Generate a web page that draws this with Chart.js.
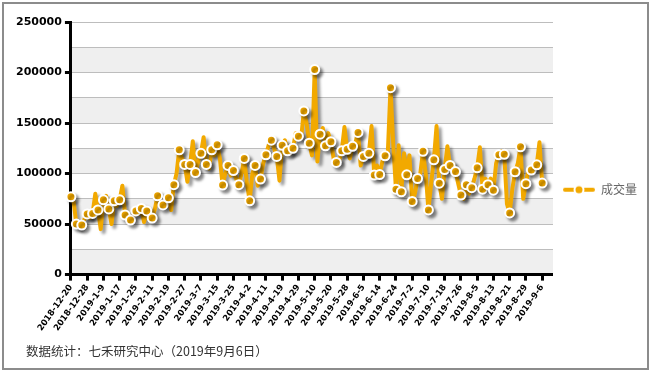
<!DOCTYPE html>
<html>
<head>
<meta charset="utf-8">
<script src="https://cdn.jsdelivr.net/npm/chart.js@4.4.1/dist/chart.umd.min.js"></script>
<style>
  body { margin: 0; background: #fff; }
  #wrap { position: relative; width: 652px; height: 373px; background: #fff; overflow: hidden; }
  #frame { position: absolute; left: 2px; top: 2px; width: 643px; height: 364px; border: 2px solid #8c8c8c; pointer-events: none; }
  #source { position: absolute; left: 26px; top: 343px; font: 12.5px "Noto Sans CJK SC", sans-serif; color: #333; white-space: nowrap; line-height: 16px; }
</style>
</head>
<body>
<div id="wrap">
  <canvas id="c" width="652" height="373"></canvas>
  <div id="frame"></div>
  <div id="source">数据统计：七禾研究中心（2019年9月6日）</div>
</div>
<script>
const seriesName = '成交量';

const tradeDates = [
  '2018-12-20','2018-12-21','2018-12-24','2018-12-25','2018-12-26','2018-12-27','2018-12-28',
  '2019-1-2','2019-1-3','2019-1-4','2019-1-7','2019-1-8','2019-1-9','2019-1-10','2019-1-11',
  '2019-1-14','2019-1-15','2019-1-16','2019-1-17','2019-1-18','2019-1-21','2019-1-22','2019-1-23',
  '2019-1-24','2019-1-25','2019-1-28','2019-1-29','2019-1-30','2019-1-31',
  '2019-2-1','2019-2-11','2019-2-12','2019-2-13','2019-2-14','2019-2-15','2019-2-18','2019-2-19',
  '2019-2-20','2019-2-21','2019-2-22','2019-2-25','2019-2-26','2019-2-27','2019-2-28',
  '2019-3-1','2019-3-4','2019-3-5','2019-3-6','2019-3-7','2019-3-8','2019-3-11','2019-3-12',
  '2019-3-13','2019-3-14','2019-3-15','2019-3-18','2019-3-19','2019-3-20','2019-3-21','2019-3-22',
  '2019-3-25','2019-3-26','2019-3-27','2019-3-28','2019-3-29',
  '2019-4-1','2019-4-2','2019-4-3','2019-4-4','2019-4-8','2019-4-9','2019-4-10','2019-4-11',
  '2019-4-12','2019-4-15','2019-4-16','2019-4-17','2019-4-18','2019-4-19','2019-4-22','2019-4-23',
  '2019-4-24','2019-4-25','2019-4-26','2019-4-29','2019-4-30',
  '2019-5-6','2019-5-7','2019-5-8','2019-5-9','2019-5-10','2019-5-13','2019-5-14','2019-5-15',
  '2019-5-16','2019-5-17','2019-5-20','2019-5-21','2019-5-22','2019-5-23','2019-5-24','2019-5-27',
  '2019-5-28','2019-5-29','2019-5-30','2019-5-31',
  '2019-6-3','2019-6-4','2019-6-5','2019-6-6','2019-6-10','2019-6-11','2019-6-12','2019-6-13',
  '2019-6-14','2019-6-17','2019-6-18','2019-6-19','2019-6-20','2019-6-21','2019-6-24','2019-6-25',
  '2019-6-26','2019-6-27','2019-6-28',
  '2019-7-1','2019-7-2','2019-7-3','2019-7-4','2019-7-5','2019-7-8','2019-7-9','2019-7-10',
  '2019-7-11','2019-7-12','2019-7-15','2019-7-16','2019-7-17','2019-7-18','2019-7-19','2019-7-22',
  '2019-7-23','2019-7-24','2019-7-25','2019-7-26','2019-7-29','2019-7-30','2019-7-31',
  '2019-8-1','2019-8-2','2019-8-5','2019-8-6','2019-8-7','2019-8-8','2019-8-9','2019-8-12',
  '2019-8-13','2019-8-14','2019-8-15','2019-8-16','2019-8-19','2019-8-20','2019-8-21','2019-8-22',
  '2019-8-23','2019-8-26','2019-8-27','2019-8-28','2019-8-29','2019-8-30',
  '2019-9-2','2019-9-3','2019-9-4','2019-9-5','2019-9-6'
];

const volume = [
  77000, 72000, 50000, 47000, 49000, 55000, 60000, 56000, 60500, 80000,
  64000, 45000, 74000, 78000, 65000, 50000, 73000, 68000, 74000, 88000,
  59000, 58000, 54000, 58000, 63000, 60000, 65500, 52000, 63000, 60000,
  56000, 65000, 78000, 72000, 69000, 68000, 76000, 64000, 89000, 100000,
  123500, 115000, 109000, 92000, 109000, 132000, 101000, 112000, 120000, 136000,
  109000, 105000, 123500, 118000, 128500, 115000, 88600, 100000, 108000, 98000,
  103000, 95000, 89000, 100000, 115000, 90000, 73000, 100000, 108000, 88000,
  94500, 110000, 118600, 128000, 133000, 125000, 117000, 93000, 128000, 133000,
  122500, 120000, 125000, 140000, 137000, 135000, 162000, 150000, 130000, 118000,
  203000, 112000, 139000, 145000, 127500, 140000, 131500, 115000, 111000, 112000,
  122500, 146000, 124000, 115000, 127000, 130000, 140700, 108000, 117000, 115000,
  120000, 147000, 98500, 108000, 99000, 112000, 117600, 120000, 185000, 130000,
  84600, 128000, 82000, 120000, 98800, 118000, 72400, 80000, 95000, 100000,
  122000, 100000, 64000, 90000, 113600, 147000, 90500, 75000, 104000, 127000,
  108000, 110000, 102000, 90000, 78700, 75000, 89000, 80000, 86000, 95000,
  105700, 126000, 84600, 95000, 89000, 95000, 83600, 110000, 118600, 122000,
  119000, 70000, 61000, 85000, 101800, 110000, 126500, 75000, 90000, 105000,
  103500, 105000, 108700, 131000, 90600
];

const yMax = 250000;
const yGridStep = 25000;
const yLabelStep = 50000;
const xLabelEvery = 6;
const trailingSlots = ['', '', '', ''];

const ORANGE = '#F2A900';

// legend icon: line with a circle marker
const legendIcon = document.createElement('canvas');
legendIcon.width = 32; legendIcon.height = 14;
(function () {
  const g = legendIcon.getContext('2d');
  g.strokeStyle = ORANGE; g.lineWidth = 4; g.lineCap = 'round';
  g.beginPath(); g.moveTo(2, 7); g.lineTo(30, 7); g.stroke();
  g.beginPath(); g.arc(16, 7, 4.5, 0, Math.PI * 2);
  g.fillStyle = ORANGE; g.fill();
  g.lineWidth = 2; g.strokeStyle = '#fff'; g.stroke();
})();

const bandsPlugin = {
  id: 'bands',
  beforeDraw(chart) {
    const { ctx, chartArea: a, scales: { y } } = chart;
    ctx.save();
    ctx.fillStyle = '#efefef';
    for (let v = 0; v < yMax; v += 2 * yGridStep) {
      const top = y.getPixelForValue(v + yGridStep);
      const bot = y.getPixelForValue(v);
      ctx.fillRect(a.left, top, a.right - a.left, bot - top);
    }
    ctx.restore();
  }
};

const shadowPlugin = {
  id: 'shadow',
  beforeDatasetsDraw(chart) {
    const ctx = chart.ctx;
    ctx.save();
    ctx.shadowColor = 'rgba(0,0,0,0.4)';
    ctx.shadowBlur = 3;
    ctx.shadowOffsetX = 3;
    ctx.shadowOffsetY = 3;
  },
  afterDatasetsDraw(chart) {
    chart.ctx.restore();
  }
};

new Chart(document.getElementById('c'), {
  type: 'line',
  data: {
    labels: tradeDates.concat(trailingSlots),
    datasets: [{
      label: seriesName,
      data: volume,
      borderColor: ORANGE,
      backgroundColor: ORANGE,
      borderWidth: 4,
      borderJoinStyle: 'round',
      borderCapStyle: 'round',
      tension: 0,
      fill: false,
      clip: false,
      pointRadius: (c) => (c.dataIndex % 2 === 0 ? 4.5 : 0),
      pointBorderWidth: 2,
      pointBorderColor: '#fff',
      pointBackgroundColor: ORANGE
    }]
  },
  options: {
    responsive: false,
    animation: false,
    layout: { padding: { left: 13, right: 5, top: 22, bottom: 38 } },
    scales: {
      x: {
        offset: false,
        border: { display: true, color: '#000', width: 3 },
        grid: {
          display: true,
          drawOnChartArea: false,
          drawTicks: true,
          tickLength: 6,
          tickWidth: 3,
          tickColor: (c) => (c.index % xLabelEvery === 0 && c.index < tradeDates.length ? '#000' : 'rgba(0,0,0,0)')
        },
        ticks: {
          autoSkip: false,
          maxRotation: 55,
          minRotation: 55,
          padding: 2,
          color: '#000',
          font: { family: 'DejaVu Sans', weight: 'bold', size: 8.5 },
          callback: function (v, i) {
            return (i % xLabelEvery === 0 && i < tradeDates.length) ? tradeDates[i] : '';
          }
        }
      },
      y: {
        min: 0,
        max: yMax,
        border: { display: true, color: '#000', width: 3 },
        grid: {
          color: '#bdbdbd',
          lineWidth: 1,
          tickLength: 6,
          tickWidth: 3,
          tickColor: (c) => (c.tick && c.tick.value % yLabelStep === 0 ? '#000' : 'rgba(0,0,0,0)')
        },
        ticks: {
          stepSize: yGridStep,
          padding: 3,
          color: '#000',
          font: { family: 'DejaVu Sans', weight: 'bold', size: 11 },
          callback: (v) => (v % yLabelStep === 0 ? String(v) : '')
        }
      }
    },
    plugins: {
      tooltip: { enabled: false },
      legend: {
        position: 'right',
        title: { display: true, text: '', font: { size: 12 }, padding: { top: 0, bottom: 8 } },
        labels: {
          usePointStyle: true,
          pointStyleWidth: 32,
          boxHeight: 12,
          padding: 10,
          color: '#222',
          font: { family: '"Noto Sans CJK SC"', size: 12 },
          generateLabels: () => [{
            text: seriesName,
            pointStyle: legendIcon,
            fillStyle: ORANGE,
            strokeStyle: ORANGE,
            lineWidth: 0,
            hidden: false,
            datasetIndex: 0
          }]
        }
      }
    }
  },
  plugins: [bandsPlugin, shadowPlugin]
});
</script>
</body>
</html>
